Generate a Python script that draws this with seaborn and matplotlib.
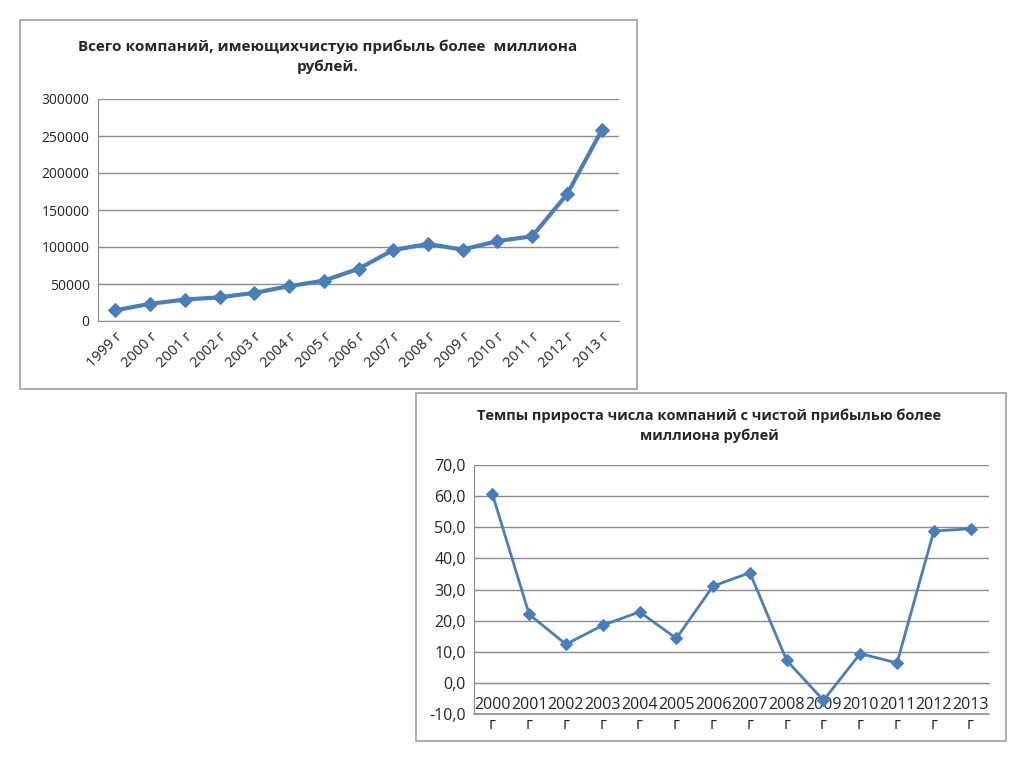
import numpy as np
import pandas as pd
import seaborn as sns
import matplotlib.pyplot as plt
from matplotlib.patches import Rectangle

years1 = ['1999 г', '2000 г', '2001 г', '2002 г', '2003 г', '2004 г', '2005 г', '2006 г',
          '2007 г', '2008 г', '2009 г', '2010 г', '2011 г', '2012 г', '2013 г']
total = [14500, 23200, 29000, 32000, 38000, 47000, 54500, 70500,
         96000, 104000, 96500, 108000, 114500, 171000, 257500]

years2 = ['2000\nг', '2001\nг', '2002\nг', '2003\nг', '2004\nг', '2005\nг', '2006\nг',
          '2007\nг', '2008\nг', '2009\nг', '2010\nг', '2011\nг', '2012\nг', '2013\nг']
growth = [60.7, 22.0, 12.4, 18.5, 22.8, 14.3, 31.1, 35.4, 7.2, -5.6, 9.4, 6.4, 48.8, 49.5]

title1 = 'Всего компаний, имеющихчистую прибыль более  миллиона\nрублей.'
title2 = 'Темпы прироста числа компаний с чистой прибылью более\nмиллиона рублей'

sns.set_style('white')
plt.rcParams['font.family'] = ['Open Sans', 'DejaVu Sans']
blue = '#4A7EBB'
grid = '#8c8c8c'

W, H = 1024, 767
fig = plt.figure(figsize=(W / 100, H / 100), dpi=100)


def fx(px):
    return px / W


def fy(py):
    return 1 - py / H


# chart frames
fig.patches.append(Rectangle((fx(20), fy(389)), fx(617), 369 / H, transform=fig.transFigure,
                             fill=False, edgecolor='#a0a0a0', linewidth=1.2))
fig.patches.append(Rectangle((fx(416), fy(741)), fx(590), 348 / H, transform=fig.transFigure,
                             fill=False, edgecolor='#a0a0a0', linewidth=1.2))

# ---- chart 1 ----
df1 = pd.DataFrame({'year': years1, 'value': total})
ax1 = fig.add_axes([fx(98), fy(321), fx(521), 222 / H])
sns.lineplot(data=df1, x='year', y='value', ax=ax1, color=blue, linewidth=3,
             marker='D', markersize=7, markeredgecolor=blue, sort=False)
ax1.set_xlim(-0.5, len(years1) - 0.5)
ax1.set_ylim(0, 300000)
ax1.set_yticks(np.arange(0, 300001, 50000))
ax1.yaxis.grid(True, color=grid, linewidth=1)
ax1.set_xlabel('')
ax1.set_ylabel('')
for s in ['top', 'right']:
    ax1.spines[s].set_visible(False)
ax1.spines['left'].set_color(grid)
ax1.spines['bottom'].set_color(grid)
ax1.set_xticks(np.arange(len(years1)))
ax1.set_xticklabels(years1, rotation=45, ha='right', rotation_mode='anchor', fontsize=10.5)
ax1.tick_params(axis='x', length=0, pad=6)
ax1.set_xticks(np.arange(-0.5, len(years1)), minor=True)
ax1.tick_params(axis='x', which='minor', length=5, color=grid, direction='out')
ax1.tick_params(axis='y', length=0, labelsize=10, pad=6)
fig.text(fx(328), fy(57), title1, ha='center', va='center', fontsize=11,
         fontweight='bold', linespacing=1.5)

# ---- chart 2 ----
df2 = pd.DataFrame({'year': years2, 'value': growth})
ax2 = fig.add_axes([fx(474), fy(714), fx(515), 249 / H])
ax2.axhline(-10, color=grid, linewidth=1.2, zorder=1, clip_on=False)
sns.lineplot(data=df2, x='year', y='value', ax=ax2, color=blue, linewidth=2,
             marker='D', markersize=6.5, markeredgecolor=blue, sort=False, zorder=3)
ax2.set_xlim(-0.5, len(years2) - 0.5)
ax2.set_ylim(-10, 70)
ax2.set_yticks(np.arange(-10, 71, 10))
ax2.set_yticklabels([f'{v:.1f}'.replace('.', ',') for v in np.arange(-10, 71, 10)])
ax2.yaxis.grid(True, color=grid, linewidth=1)
ax2.set_axisbelow(True)
ax2.set_xlabel('')
ax2.set_ylabel('')
for s in ['top', 'right']:
    ax2.spines[s].set_visible(False)
ax2.spines['left'].set_color(grid)
ax2.spines['bottom'].set_color(grid)
ax2.spines['bottom'].set_position(('data', 0))
ax2.set_xticks(np.arange(len(years2)))
ax2.set_xticklabels(years2, fontsize=11.5, linespacing=1.35)
ax2.tick_params(axis='x', length=0, pad=10)
ax2.set_xticks(np.arange(-0.5, len(years2)), minor=True)
ax2.tick_params(axis='x', which='minor', length=5, color=grid, direction='out')
ax2.tick_params(axis='y', length=0, labelsize=11.5, pad=6)
fig.text(fx(709), fy(426), title2, ha='center', va='center', fontsize=10.5,
         fontweight='bold', linespacing=1.5)

fig.savefig('out.png', dpi=100, facecolor='white')
